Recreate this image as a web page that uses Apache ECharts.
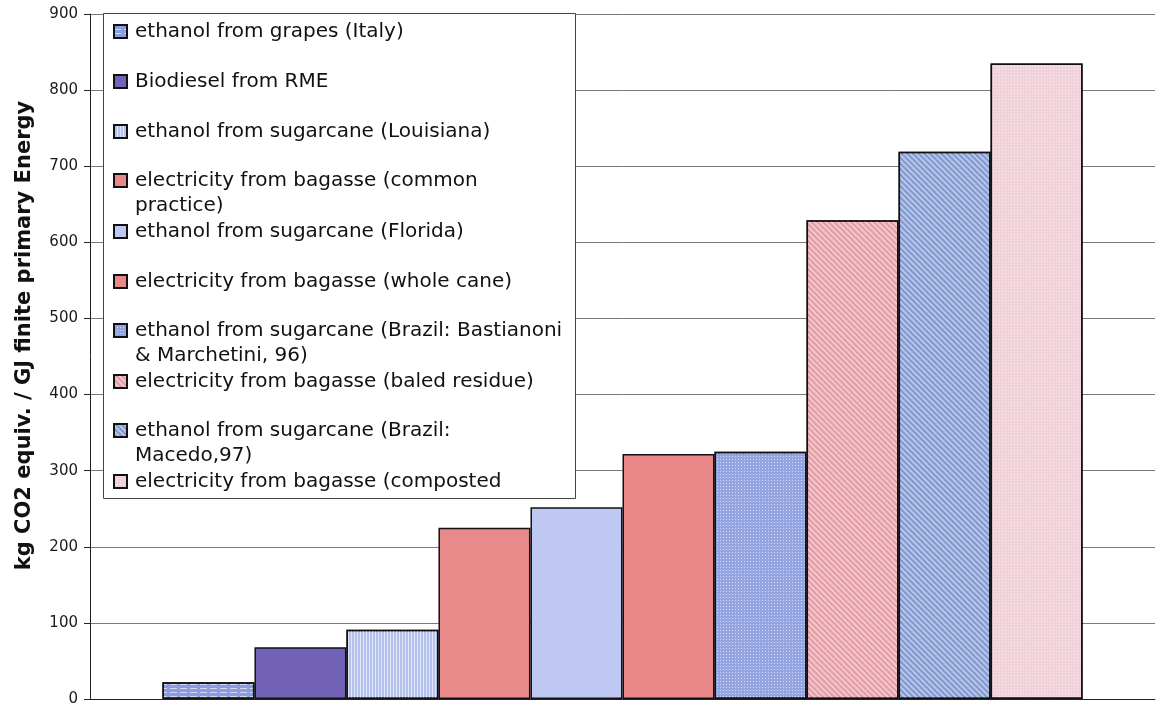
<!DOCTYPE html>
<html>
<head>
<meta charset="utf-8">
<script src="https://cdn.jsdelivr.net/npm/echarts@6/dist/echarts.min.js"></script>
<style>
  html, body { margin: 0; padding: 0; background: #fff; }
  #chart { width: 1167px; height: 707px; }
</style>
</head>
<body>
<div id="chart"></div>
<script>
// Greenhouse-gas intensity of bio-energy routes (kg CO2 equiv. per GJ finite primary energy)
const legendLabels = [
  'ethanol from grapes (Italy)',
  'Biodiesel from RME',
  'ethanol from sugarcane (Louisiana)',
  'electricity from bagasse (common\npractice)',
  'ethanol from sugarcane (Florida)',
  'electricity from bagasse (whole cane)',
  'ethanol from sugarcane (Brazil: Bastianoni\n& Marchetini, 96)',
  'electricity from bagasse (baled residue)',
  'ethanol from sugarcane (Brazil:\nMacedo,97)',
  'electricity from bagasse (composted'
];
const values = [22, 68, 91, 225, 252, 322, 325, 629, 719, 835];
const colors = ['#8c9ce0', '#7262b8', '#b6c2ee', '#e88a8a', '#bec8f2', '#e98888',
                '#94a4e0', '#e69aa4', '#8098d2', '#f2d2da'];
const yTicks = { min: 0, max: 900, interval: 100 };
const yTitle = 'kg CO2 equiv. / GJ finite primary Energy';

const seriesNames = legendLabels.map(s => s.replace('\n', ' '));

// Fill textures drawn over each bar colour
const white = 'rgba(255,255,255,0.6)';
const stripe = 'rgba(255,255,255,0.45)';
const decals = [
  { symbol: 'rect', symbolSize: 1, color: white, dashArrayX: [[7, 3]], dashArrayY: [1, 3] },
  null,
  { symbol: 'rect', symbolSize: 1, color: white, dashArrayX: [1, 2], dashArrayY: [1, 0] },
  null,
  null,
  null,
  { symbol: 'rect', symbolSize: 1, color: white, dashArrayX: [1, 1.5], dashArrayY: [1, 1.5] },
  { symbol: 'rect', symbolSize: 1, color: stripe, dashArrayX: [1, 0], dashArrayY: [1.5, 2], rotation: Math.PI / 4 },
  { symbol: 'rect', symbolSize: 1, color: stripe, dashArrayX: [1, 0], dashArrayY: [1.5, 2], rotation: Math.PI / 4 },
  { symbol: 'rect', symbolSize: 1, color: white, dashArrayX: [1, 1.5], dashArrayY: [1, 1.5] }
];

const series = seriesNames.map((name, i) => {
  const itemStyle = { color: colors[i], borderColor: '#111', borderWidth: 1.5 };
  if (decals[i]) itemStyle.decal = decals[i];
  return {
    name: name,
    type: 'bar',
    data: [values[i]],
    barGap: 0,
    barCategoryGap: '13.6%',
    itemStyle: itemStyle,
    emphasis: { disabled: true },
    animation: false
  };
});

// One legend block per entry so that wrapped entries keep a fixed 50px pitch.
// Wrapped labels get a blank leading line so the swatch sits beside their first line.
const legendFont = { fontFamily: 'DejaVu Sans', fontSize: 20, color: '#111', lineHeight: 25, padding: [0, 0, 0, 3] };
const legends = seriesNames.map((name, i) => {
  const wrapped = legendLabels[i].indexOf('\n') >= 0;
  return {
    data: [name],
    orient: 'vertical',
    left: 113,
    top: 29 + 50 * i - (wrapped ? 36 : 10),
    padding: 0,
    icon: 'rect',
    itemWidth: 13,
    itemHeight: 13,
    itemGap: 0,
    selectedMode: false,
    formatter: () => (wrapped ? ' \n' : '') + legendLabels[i],
    textStyle: legendFont
  };
});

const chart = echarts.init(document.getElementById('chart'), null, { renderer: 'canvas' });
chart.setOption({
  animation: false,
  backgroundColor: '#fff',
  grid: { left: 90, right: 12, top: 14, bottom: 8, containLabel: false },
  xAxis: {
    type: 'category',
    data: [''],
    axisLine: { show: true, lineStyle: { color: '#222', width: 1 } },
    axisTick: { show: false },
    axisLabel: { show: false }
  },
  yAxis: {
    type: 'value',
    min: yTicks.min,
    max: yTicks.max,
    interval: yTicks.interval,
    name: yTitle,
    nameLocation: 'middle',
    nameRotate: 90,
    nameGap: 55,
    nameTextStyle: { fontFamily: 'DejaVu Sans', fontWeight: 'bold', fontSize: 21, color: '#111', padding: [0, 0, 0, 42] },
    axisLine: { show: true, lineStyle: { color: '#222', width: 1 } },
    axisTick: { show: true, length: 6, lineStyle: { color: '#222' } },
    axisLabel: { fontFamily: 'DejaVu Sans', fontSize: 15, color: '#1a1a1a', margin: 12 },
    splitLine: { show: true, lineStyle: { color: '#7a7a7a', width: 1 } }
  },
  legend: legends,
  graphic: {
    elements: [{
      type: 'rect',
      z: 3,
      silent: true,
      shape: { x: 103.5, y: 13.5, width: 472, height: 485 },
      style: { fill: '#fff', stroke: '#444', lineWidth: 1 }
    }]
  },
  series: series
});
</script>
</body>
</html>
